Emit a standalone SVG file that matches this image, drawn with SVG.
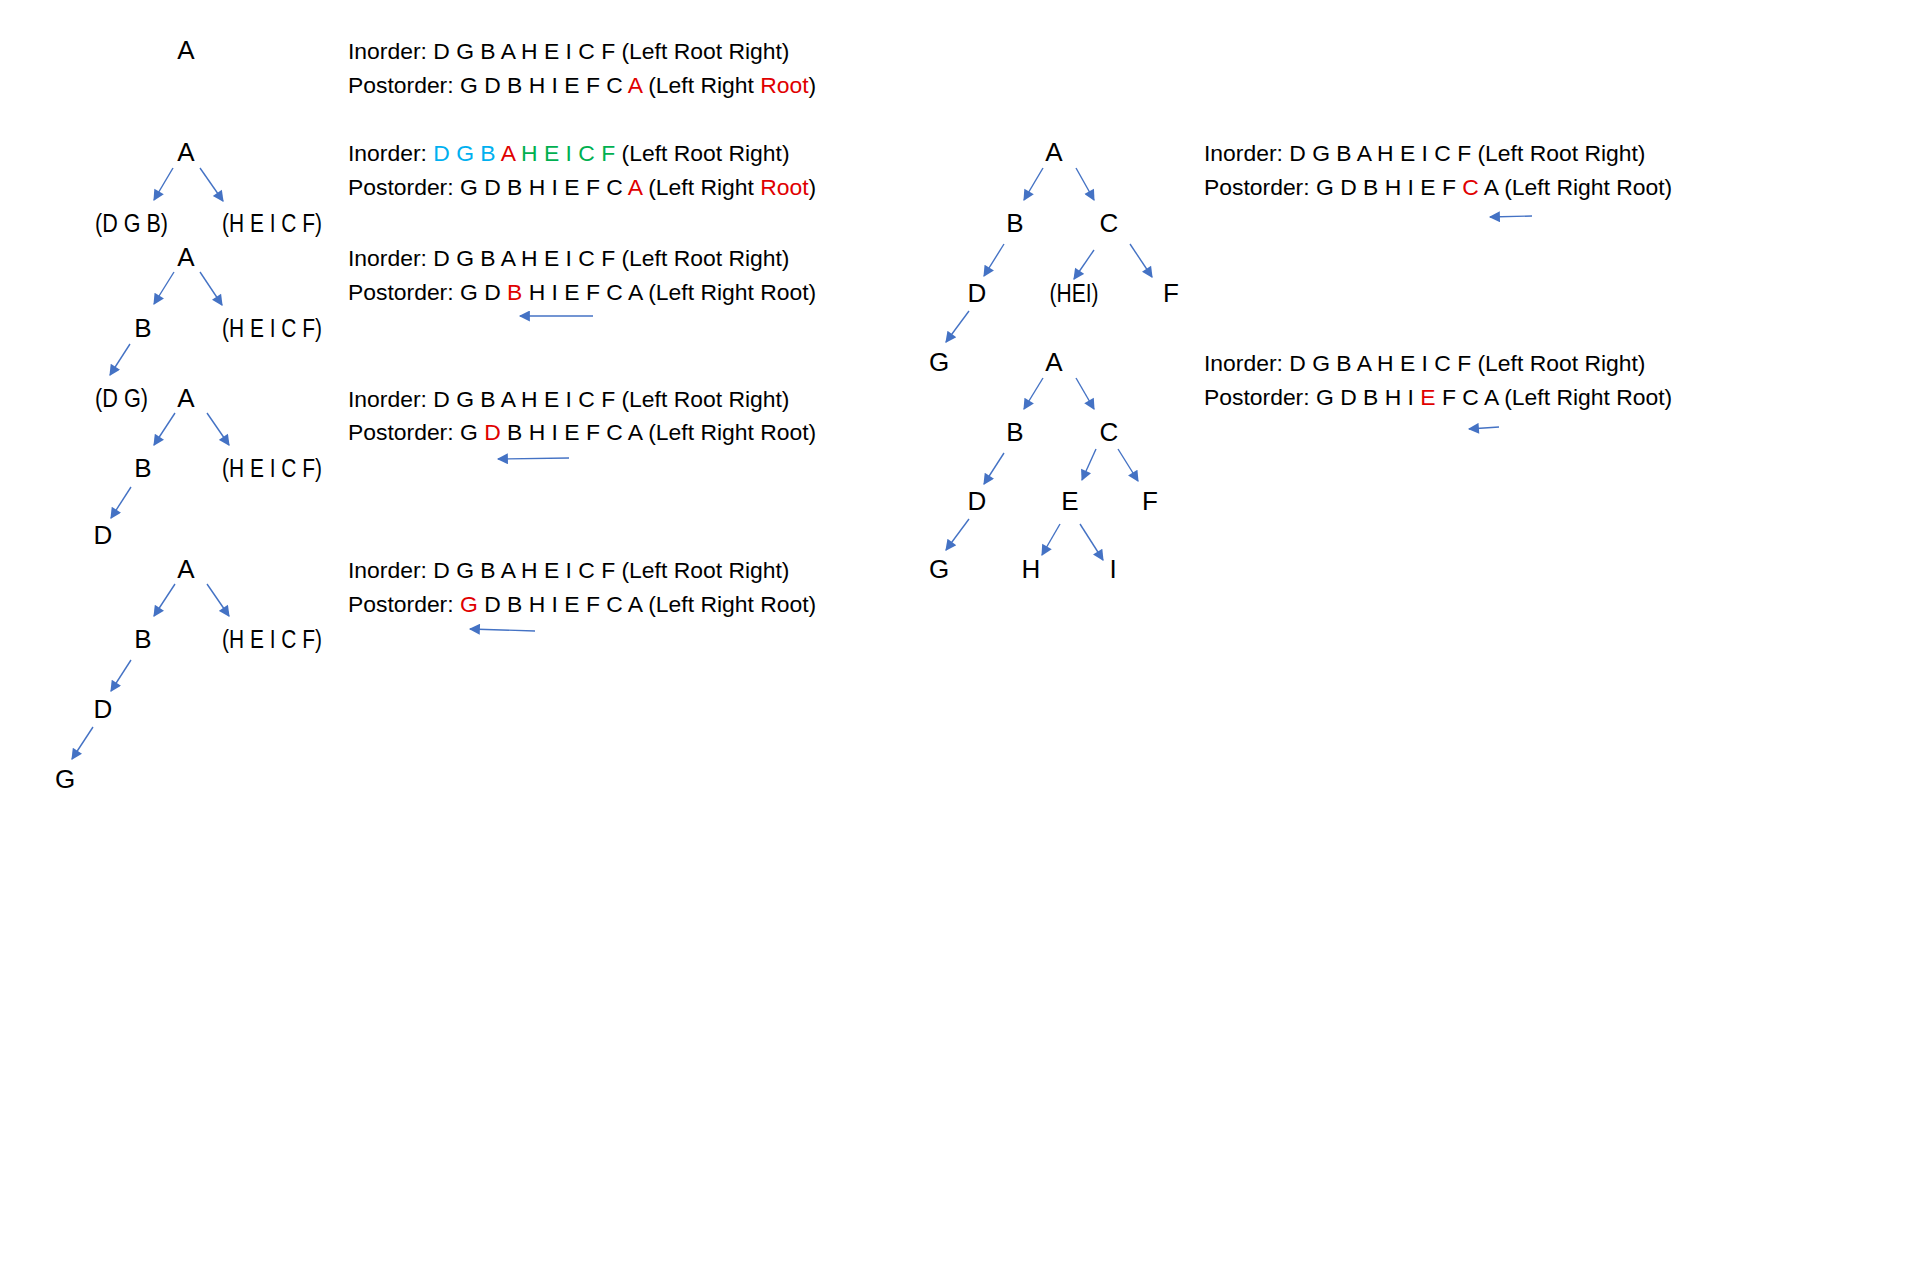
<svg xmlns="http://www.w3.org/2000/svg" width="1920" height="1280" viewBox="0 0 1920 1280">
<style>
text{font-family:"Liberation Sans",Arial,sans-serif;font-size:26px;fill:#000}
.t{font-size:22.9px}
.n{text-anchor:middle}
.r{fill:#E00000}
.b{fill:#00B0F0}
.g{fill:#00B050}
.c line{stroke:#4472C4;stroke-width:1.4;marker-end:url(#ah)}
</style>
<defs>
<marker id="ah" viewBox="0 0 10 10" refX="9" refY="5" markerWidth="13" markerHeight="11" markerUnits="userSpaceOnUse" orient="auto">
<path d="M0,0 L10,5 L0,10 Z" fill="#4472C4"/>
</marker>
</defs>
<rect width="1920" height="1280" fill="#fff"/>

<g id="block1">
<text class="n" x="186" y="59">A</text>
<text class="t" x="348" y="59">Inorder: D G B A H E I C F (Left Root Right)</text>
<text class="t" x="348" y="93">Postorder: G D B H I E F C <tspan class="r">A</tspan> (Left Right <tspan class="r">Root</tspan>)</text>
</g>

<g id="block2">
<text class="n" x="186" y="161">A</text>
<text x="95" y="232" textLength="73" lengthAdjust="spacingAndGlyphs">(D G B)</text>
<text x="222" y="232" textLength="100" lengthAdjust="spacingAndGlyphs">(H E I C F)</text>
<text class="t" x="348" y="161">Inorder: <tspan class="b">D G B</tspan> <tspan class="r">A</tspan> <tspan class="g">H E I C F</tspan> (Left Root Right)</text>
<text class="t" x="348" y="195">Postorder: G D B H I E F C <tspan class="r">A</tspan> (Left Right <tspan class="r">Root</tspan>)</text>
</g>

<g id="block3">
<text class="n" x="186" y="266">A</text>
<text class="n" x="143" y="337">B</text>
<text x="222" y="337" textLength="100" lengthAdjust="spacingAndGlyphs">(H E I C F)</text>
<text class="t" x="348" y="266">Inorder: D G B A H E I C F (Left Root Right)</text>
<text class="t" x="348" y="300">Postorder: G D <tspan class="r">B</tspan> H I E F C A (Left Right Root)</text>
</g>

<g id="block4">
<text x="95" y="407" textLength="53" lengthAdjust="spacingAndGlyphs">(D G)</text>
<text class="n" x="186" y="407">A</text>
<text class="n" x="143" y="477">B</text>
<text x="222" y="477" textLength="100" lengthAdjust="spacingAndGlyphs">(H E I C F)</text>
<text class="n" x="103" y="544">D</text>
<text class="t" x="348" y="407">Inorder: D G B A H E I C F (Left Root Right)</text>
<text class="t" x="348" y="440">Postorder: G <tspan class="r">D</tspan> B H I E F C A (Left Right Root)</text>
</g>

<g id="block5">
<text class="n" x="186" y="578">A</text>
<text class="n" x="143" y="648">B</text>
<text x="222" y="648" textLength="100" lengthAdjust="spacingAndGlyphs">(H E I C F)</text>
<text class="n" x="103" y="718">D</text>
<text class="n" x="65" y="788">G</text>
<text class="t" x="348" y="578">Inorder: D G B A H E I C F (Left Root Right)</text>
<text class="t" x="348" y="612">Postorder: <tspan class="r">G</tspan> D B H I E F C A (Left Right Root)</text>
</g>

<g id="block6">
<text class="n" x="1054" y="161">A</text>
<text class="n" x="1015" y="232">B</text>
<text class="n" x="1109" y="232">C</text>
<text class="n" x="977" y="302">D</text>
<text class="n" x="1074" y="302" textLength="49" lengthAdjust="spacingAndGlyphs">(HEI)</text>
<text class="n" x="1171" y="302">F</text>
<text class="n" x="939" y="371">G</text>
<text class="t" x="1204" y="161">Inorder: D G B A H E I C F (Left Root Right)</text>
<text class="t" x="1204" y="195">Postorder: G D B H I E F <tspan class="r">C</tspan> A (Left Right Root)</text>
</g>

<g id="block7">
<text class="n" x="1054" y="371">A</text>
<text class="n" x="1015" y="441">B</text>
<text class="n" x="1109" y="441">C</text>
<text class="n" x="977" y="510">D</text>
<text class="n" x="1070" y="510">E</text>
<text class="n" x="1150" y="510">F</text>
<text class="n" x="939" y="578">G</text>
<text class="n" x="1031" y="578">H</text>
<text class="n" x="1113" y="578">I</text>
<text class="t" x="1204" y="371">Inorder: D G B A H E I C F (Left Root Right)</text>
<text class="t" x="1204" y="405">Postorder: G D B H I <tspan class="r">E</tspan> F C A (Left Right Root)</text>
</g>

<g id="connectors" class="c">
<line x1="173" y1="168" x2="154" y2="200"/>
<line x1="200" y1="168" x2="223" y2="201"/>

<line x1="174" y1="272" x2="154" y2="304"/>
<line x1="200" y1="272" x2="222" y2="305"/>
<line x1="130" y1="344" x2="110" y2="375"/>
<line x1="593" y1="316" x2="520" y2="316"/>

<line x1="175" y1="413" x2="154" y2="445"/>
<line x1="207" y1="413" x2="229" y2="445"/>
<line x1="131" y1="487" x2="111" y2="518"/>
<line x1="569" y1="458" x2="498" y2="459"/>

<line x1="175" y1="584" x2="154" y2="616"/>
<line x1="207" y1="584" x2="229" y2="616"/>
<line x1="131" y1="660" x2="111" y2="691"/>
<line x1="93" y1="727" x2="72" y2="759"/>
<line x1="535" y1="631" x2="470" y2="629"/>

<line x1="1043" y1="168" x2="1024" y2="200"/>
<line x1="1076" y1="168" x2="1094" y2="200"/>
<line x1="1004" y1="244" x2="984" y2="276"/>
<line x1="1094" y1="250" x2="1074" y2="279"/>
<line x1="1130" y1="244" x2="1152" y2="277"/>
<line x1="969" y1="311" x2="946" y2="342"/>
<line x1="1532" y1="216" x2="1490" y2="217"/>

<line x1="1043" y1="378" x2="1024" y2="409"/>
<line x1="1076" y1="378" x2="1094" y2="409"/>
<line x1="1004" y1="453" x2="984" y2="484"/>
<line x1="1096" y1="449" x2="1082" y2="480"/>
<line x1="1118" y1="449" x2="1138" y2="481"/>
<line x1="969" y1="519" x2="946" y2="550"/>
<line x1="1060" y1="524" x2="1042" y2="555"/>
<line x1="1080" y1="524" x2="1103" y2="560"/>
<line x1="1499" y1="427" x2="1469" y2="429"/>
</g>
</svg>
